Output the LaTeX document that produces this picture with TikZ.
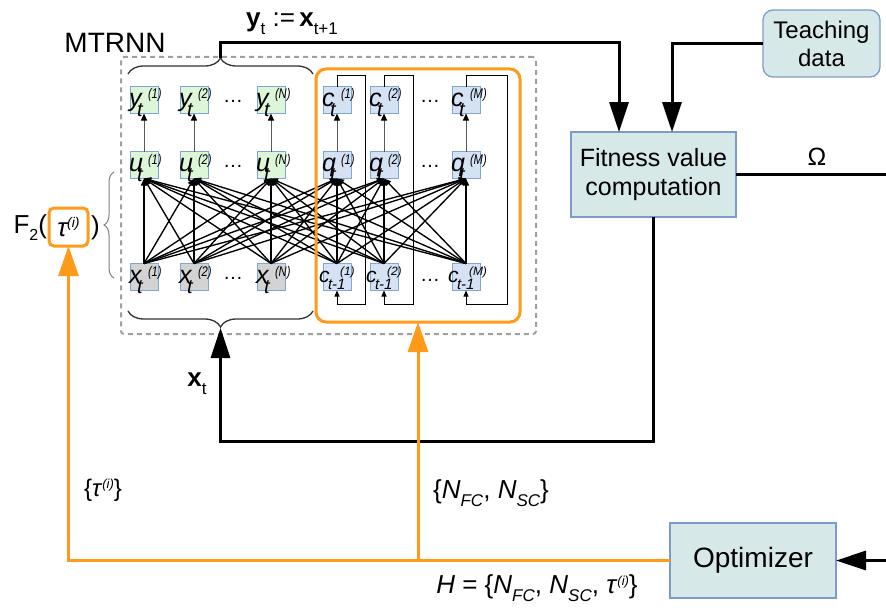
\documentclass[tikz,border=0pt]{standalone}
\usepackage{fontspec}
\usepackage{graphicx}
\setmainfont{Liberation Sans}
\usetikzlibrary{arrows.meta,decorations.pathreplacing,calc}
\definecolor{org}{HTML}{FF9A1A}
\definecolor{bord}{HTML}{7EA6D8}
\definecolor{grn}{HTML}{DDF6D8}
\definecolor{blu}{HTML}{D5E2F4}
\definecolor{gry}{HTML}{D3D3D3}
\definecolor{tealfill}{HTML}{D6E8E8}
\definecolor{tbord}{HTML}{7B9CC8}
\newcommand{\fs}[1]{\fontsize{#1}{#1}\selectfont}
\newcommand{\nv}[2]{{\itshape\rlap{\fs{25}#1}\kern8pt\rlap{\raisebox{-10pt}{\fs{20}t}}\kern11pt\raisebox{7pt}{\scalebox{0.8}[1]{\fs{14}(#2)}}}}
\newcommand{\nvc}[1]{{\itshape\rlap{\fs{21}c}\kern9pt\rlap{\raisebox{-7pt}{\fs{15}t-1}}\kern12pt\raisebox{7pt}{\fs{12}(#1)}}}
\begin{document}
\begin{tikzpicture}[x=1pt,y=-1pt,
  every node/.style={inner sep=0pt, outer sep=0pt},
  cell/.style={draw=bord, line width=0.9pt, minimum width=28pt, minimum height=27pt},
  gcell/.style={cell, fill=grn},
  xcell/.style={cell, fill=gry},
  bcell/.style={cell, fill=blu},
  proc/.style={draw=tbord, line width=1.3pt, fill=tealfill, align=center},
  big/.style={line width=3pt, -{Triangle[length=30pt,width=19pt]}},
  plain3/.style={line width=3pt},
  oarrow/.style={draw=org, line width=3pt, -{Triangle[length=30pt,width=20pt]}},
  conn/.style={line width=1.35pt, -{Triangle[length=7pt,width=6pt]}},
  vup/.style={draw=gray!70!black, line width=1pt, -{Triangle[length=7pt,width=6pt,color=black]}},
  fb/.style={line width=0.8pt, -{Triangle[length=6pt,width=5pt]}},
  brc/.style={decorate, decoration={brace, amplitude=16pt}, line width=1.3pt, draw=black!80},
  ctext/.style={anchor=base west},
]
\useasboundingbox (0,0) rectangle (886,610);

% cells
\node[gcell] (y1) at (144,100) {};
\node[gcell] (y2) at (194,100) {};
\node[gcell] (yN) at (271,100) {};
\node[gcell] (u1) at (144,165) {};
\node[gcell] (u2) at (194,165) {};
\node[gcell] (uN) at (271,165) {};
\node[xcell] (x1) at (144,277) {};
\node[xcell] (x2) at (194,277) {};
\node[xcell] (xN) at (271,277) {};
\node[bcell] (c1) at (337,100) {};
\node[bcell] (c2) at (384,100) {};
\node[bcell] (cM) at (466,100) {};
\node[bcell] (q1) at (337,165) {};
\node[bcell] (q2) at (384,165) {};
\node[bcell] (qM) at (466,165) {};
\node[bcell] (cb1) at (337,277) {};
\node[bcell] (cb2) at (384,277) {};
\node[bcell] (cbM) at (466,277) {};

% full connections
\foreach \b in {x1,x2,xN,cb1,cb2,cbM}
  \foreach \t in {u1,u2,uN,q1,q2,qM}
    \draw[conn] (\b.north) -- (\t.south);

% vertical output arrows
\foreach \a/\b in {u1/y1,u2/y2,uN/yN,q1/c1,q2/c2,qM/cM}
  \draw[vup] (\a.north) -- (\b.south);

% feedback loops
\draw[fb] (c1.north) -- ++(0,-11) -- ++(28,0) -- ++(0,229) -- ++(-28,0) -- (cb1.south);
\draw[fb] (c2.north) -- ++(0,-11) -- ++(29,0) -- ++(0,229) -- ++(-29,0) -- (cb2.south);
\draw[fb] (cM.north) -- ++(0,-11) -- ++(41,0) -- ++(0,229) -- ++(-41,0) -- (cbM.south);

% cell texts
\foreach \c/\l/\s in {y1/y/1,y2/y/2,yN/y/N,u1/u/1,u2/u/2,uN/u/N,x1/x/1,x2/x/2,xN/x/N,c1/c/1,c2/c/2,cM/c/M,q1/q/1,q2/q/2,qM/q/M}
  \node[ctext] (t\c) at ($(\c.west)+(-1,6)$) {\nv{\l}{\s}};
\foreach \c/\s in {cb1/1,cb2/2,cbM/M}
  \node[ctext] (t\c) at ($(\c.west)+(-4,5)$) {\nvc{\s}};

% dots
\foreach \n/\xx/\yy in {d1/233/102,d2/233/167,d3/233/279,d4/430/102,d5/430/167,d6/430/281}
  \node[anchor=base] (\n) at (\xx,\yy) {\fs{20}…};

% boxes
\node[draw=gray!75, dash pattern=on 5pt off 4pt, line width=2pt, rounded corners=3pt,
      minimum width=415pt, minimum height=277pt] (mt) at (328.5,195.5) {};
\node[draw=org, line width=3pt, rounded corners=10pt,
      minimum width=204pt, minimum height=253pt] (obox) at (418,195.5) {};

% braces
\draw[brc] (128,74) -- (313,74);
\draw[brc] (313,311) -- (128,311);
\draw[decorate, decoration={brace, amplitude=10pt}, line width=1pt, draw=gray] (114,278) -- (114,172);
\coordinate (tbtip) at (220.5,58);
\coordinate (bbtip) at (220.5,328);

% process boxes
\node[proc, minimum width=165pt, minimum height=85pt, font=\fontsize{25}{29}\selectfont] (fit) at (653.5,174.5)
  {Fitness value\\computation};
\node[proc, rounded corners=10pt, minimum width=117pt, minimum height=67pt, font=\fontsize{24}{28}\selectfont] (teach) at (821.5,43.5)
  {Teaching\\data};
\node[proc, minimum width=166pt, minimum height=75pt, font=\fs{28}] (opt) at (753,560.5)
  {Optimizer};

% F2(tau)
\node[draw=org, line width=3pt, rounded corners=5pt, minimum width=39pt, minimum height=38pt] (tau) at (68.5,227)
  {\itshape\fs{26}τ\raisebox{9pt}{\fs{14}(i)}};
\node[anchor=east] (f2) at (47,228) {\fs{26}F\raisebox{-7pt}{\fs{16}2}(};
\node[anchor=west] (f2c) at (91,228) {\fs{26})};

% coordinates
\coordinate (toprail) at (0,43);
\coordinate (botrail) at (0,441);
\coordinate (redge) at (886,0);

% connectors
\draw[big] (tbtip) -- (tbtip |- toprail) -| ([xshift=-34.5pt]fit.north);
\draw[big] (teach.west) -| ([xshift=18.5pt]fit.north);
\draw[plain3] (fit.east) -- (fit.east -| redge);
\draw[big] (fit.south) -- (fit.south |- botrail) -| (bbtip);
\draw[big] (opt.east -| redge) -- (opt.east);
\draw[oarrow] (opt.west) -| (tau.south);
\draw[oarrow] (opt.west -| obox.south) -- (obox.south);

% labels
\node (lmt) at (115,43) {\fs{28}MTRNN};
\node (lyx) at (292,24) {\fs{26}\textbf{y}\raisebox{-8pt}{\fs{17}t} :=\,\textbf{x}\raisebox{-8pt}{\fs{17}t+1}};
\node (lxt) at (197,384) {\fs{26}\textbf{x}\raisebox{-8pt}{\fs{17}t}};
\node (lom) at (817,157) {\fs{25}Ω};
\node (ltau) at (103,490) {\fs{24}\{\textit{τ}\raisebox{8pt}{\fs{13}\textit{(i)}}\}};
\node (lnn) at (491,493) {\fs{26}\{\textit{N}\raisebox{-8pt}{\fs{17}\textit{FC}}, \textit{N}\raisebox{-8pt}{\fs{17}\textit{SC}}\}};
\node (lh) at (537,588) {\fs{26}\textit{H} = \{\textit{N}\raisebox{-8pt}{\fs{17}\textit{FC}}, \textit{N}\raisebox{-8pt}{\fs{17}\textit{SC}}, \textit{τ}\raisebox{8pt}{\fs{13}\textit{(i)}}\}};
\end{tikzpicture}
\end{document}
